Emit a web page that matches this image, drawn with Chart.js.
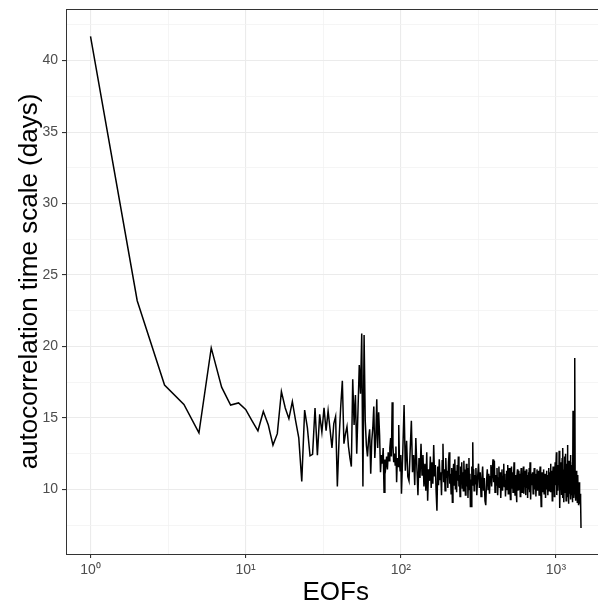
<!DOCTYPE html>
<html>
<head>
<meta charset="utf-8">
<script src="https://cdn.jsdelivr.net/npm/chart.js@4"></script>
<style>
  html, body { margin: 0; padding: 0; background: #fff; overflow: hidden; }
  canvas { display: block; }
</style>
</head>
<body>
<canvas id="chart" width="612" height="605"></canvas>
<script>
// autocorrelation time scale (days) for each EOF
// EOFs 1-100, one value each
const acHead = [
  41.7, 23.2, 17.3, 15.95, 13.95, 19.9, 17.15, 15.9, 16.05, 15.6,
  14.8, 14.1, 15.45, 14.5, 13.1, 13.9, 16.85, 15.7, 14.95, 16.15,
  14.8, 13.6, 10.55, 15.55, 14.3, 12.35, 12.45, 15.7, 12.4, 15.25,
  14.0, 15.7, 14.1, 15.5, 14.2, 12.9, 14.6, 15.1, 10.2, 13.5,
  15.8, 17.6, 13.2, 13.9, 14.4, 13.0, 12.2, 11.6, 17.7, 14.5,
  16.6, 12.5, 15.6, 18.7, 16.7, 20.9, 10.2, 20.8, 14.8, 13.1,
  12.3, 13.5, 14.2, 11.1, 13.4, 14.3, 15.8, 12.2, 13.6, 16.3,
  12.9, 15.4, 13.8, 11.2, 12.4, 11.8, 12.9, 9.8, 12.1, 11.6,
  12.3, 11.4, 12.6, 12.0, 12.9, 13.6, 12.3, 16.1, 13.1, 11.9,
  12.5, 11.7, 13.0, 10.5, 12.2, 11.6, 14.5, 12.0, 11.3, 12.4
];
// EOFs 101-299, every 2nd
const acStep2 = [
  9.7, 12.6, 15.9, 11.3, 13.4, 10.9, 10.6, 12.8, 14.8, 11.2,
  12.4, 10.3, 13.6, 11.5, 9.6, 12.2, 10.8, 13.2, 11.0, 12.4,
  10.2, 11.8, 9.9, 12.6, 9.2, 11.4, 10.6, 12.3, 10.1, 11.9,
  10.4, 13.1, 10.9, 11.7, 9.8, 8.5, 11.6, 10.3, 12.1, 10.7,
  11.2, 9.6, 12.0, 13.2, 10.5, 11.4, 9.9, 12.2, 10.8, 11.3,
  10.1, 11.9, 12.6, 10.4, 11.1, 9.7, 11.5, 9.1, 10.9, 11.8,
  10.3, 12.1, 10.0, 11.3, 9.8, 11.7, 10.6, 12.3, 10.2, 11.0,
  9.5, 11.6, 10.4, 11.9, 10.1, 11.2, 9.9, 12.0, 10.5, 11.4,
  9.6, 10.9, 11.8, 10.2, 11.5, 9.4, 10.8, 12.2, 10.0, 11.1,
  8.8, 10.7, 8.8, 11.6, 10.3, 13.3, 10.6, 11.4, 9.9, 11.0
];
// EOFs 301-697, every 4th
const acStep4 = [
  10.4, 11.5, 9.6, 10.9, 11.8, 10.1, 11.2, 9.5, 10.7, 11.6,
  9.9, 10.8, 9.2, 8.9, 10.6, 11.4, 10.0, 11.1, 9.7, 10.9,
  11.7, 10.2, 11.3, 12.1, 10.5, 12.0, 9.8, 11.0, 10.3, 11.5,
  9.6, 10.8, 11.6, 10.1, 11.2, 9.4, 10.7, 11.4, 9.9, 10.9,
  11.8, 10.2, 11.1, 9.5, 10.6, 11.3, 10.0, 11.7, 9.7, 10.8,
  11.5, 10.3, 9.3, 10.9, 11.6, 10.1, 11.2, 9.8, 10.7, 11.9,
  10.4, 9.6, 11.0, 10.2, 9.1, 10.8, 11.4, 9.9, 10.6, 11.3,
  10.0, 11.1, 9.5, 10.7, 11.5, 10.3, 9.8, 11.0, 10.4, 11.6,
  9.7, 10.9, 10.2, 11.3, 9.6, 10.8, 11.4, 10.1, 11.0, 9.4,
  10.6, 11.2, 10.0, 11.5, 9.8, 11.9, 10.5, 9.3, 10.9, 11.1
];
// EOFs 701-1451, every 6th
const acStep6 = [
  10.3, 11.2, 9.7, 10.8, 11.5, 10.0, 11.1, 9.5, 10.6, 11.4,
  9.9, 10.7, 11.3, 9.6, 10.9, 11.6, 10.2, 8.8, 10.5, 11.2,
  9.8, 10.8, 11.4, 9.7, 10.4, 11.1, 9.4, 10.6, 11.3, 10.0,
  11.0, 9.6, 10.7, 11.5, 9.9, 10.8, 11.2, 11.8, 9.8, 10.5,
  11.3, 9.2, 10.9, 11.6, 10.1, 11.1, 9.5, 10.7, 11.9, 10.3,
  11.4, 12.6, 9.6, 10.9, 11.7, 9.9, 11.2, 10.4, 12.7, 9.3,
  8.7, 11.5, 10.2, 11.9, 9.6, 10.8, 12.2, 9.4, 12.9, 10.5,
  11.4, 9.1, 10.7, 12.3, 9.8, 11.1, 12.5, 9.2, 10.6, 11.8,
  9.5, 13.1, 10.3, 11.6, 9.0, 10.8, 12.0, 9.7, 11.3, 10.1,
  12.4, 9.3, 10.9, 11.7, 9.6, 10.5, 11.9, 9.1, 15.5, 10.2,
  11.4, 9.4, 10.8, 11.2, 19.2, 9.8, 10.6, 9.2, 11.3, 10.0,
  9.5, 10.9, 9.1, 10.4, 11.0, 9.3, 10.1, 8.9, 10.5, 9.6,
  9.9, 9.0, 9.7, 8.8, 9.3, 7.3
];
// first EOF index and spacing of each block above
const blockStart = [1, 101, 301, 701];
const blockStep = [1, 2, 4, 6];
const blocks = [acHead, acStep2, acStep4, acStep6];

const xTicks = [1, 3.1623, 10, 31.623, 100, 316.23, 1000];
const xTickLabels = { 1: "10\u2070", 10: "10\u00B9", 100: "10\u00B2", 1000: "10\u00B3" };
const yTicks = [7.5, 10, 12.5, 15, 17.5, 20, 22.5, 25, 27.5, 30, 32.5, 35, 37.5, 40, 42.5];

const points = [];
blocks.forEach((vals, b) => {
  vals.forEach((v, i) => {
    points.push({ x: blockStart[b] + i * blockStep[b], y: v });
  });
});

const isMajorX = (v) => xTickLabels[v] !== undefined;
const isMajorY = (v) => v % 5 === 0;

// ggplot-style panel border (top/right sides too)
const panelBorder = {
  id: "panelBorder",
  afterDraw(chart) {
    const { ctx, chartArea: a } = chart;
    const l = Math.round(a.left) + 0.5;
    const t = Math.round(a.top) + 0.5;
    const b = Math.round(a.bottom) + 0.5;
    const r = Math.round(a.right) + 0.5;
    ctx.save();
    ctx.strokeStyle = "#333333";
    ctx.lineWidth = 1;
    ctx.strokeRect(l, t, r - l, b - t);
    ctx.restore();
  },
};

const ctx = document.getElementById("chart").getContext("2d");
new Chart(ctx, {
  type: "line",
  data: {
    datasets: [
      {
        data: points,
        borderColor: "#000000",
        borderWidth: 1.5,
        pointRadius: 0,
        tension: 0,
        fill: false,
      },
    ],
  },
  options: {
    responsive: false,
    animation: false,
    devicePixelRatio: 1,
    layout: { padding: { top: 9, right: 6.5, bottom: 0, left: 0 } },
    plugins: {
      legend: { display: false },
      tooltip: { enabled: false },
    },
    scales: {
      x: {
        type: "logarithmic",
        min: 0.695,
        max: 2087,
        afterBuildTicks: (scale) => {
          scale.ticks = xTicks.map((v) => ({ value: v }));
        },
        afterFit: (scale) => {
          scale.height = 51;
          scale.paddingLeft = 0;
          scale.paddingRight = 0;
        },
        ticks: {
          autoSkip: false,
          maxRotation: 0,
          padding: 4,
          color: "#4d4d4d",
          font: { family: "Liberation Sans", size: 14 },
          callback: (v) => xTickLabels[v] || "",
        },
        grid: {
          color: (c) => (isMajorX(c.tick.value) ? "#ebebeb" : "#f3f3f3"),
          lineWidth: (c) => (isMajorX(c.tick.value) ? 1.1 : 0.8),
          tickColor: (c) => (isMajorX(c.tick.value) ? "#333333" : "rgba(0,0,0,0)"),
          tickLength: 4,
        },
        border: { display: false },
        title: {
          display: true,
          text: "EOFs",
          color: "#000000",
          font: { family: "Liberation Sans", size: 26, lineHeight: 1 },
          padding: { top: 0, bottom: -0.5 },
        },
      },
      y: {
        type: "linear",
        min: 5.48,
        max: 43.61,
        afterBuildTicks: (scale) => {
          scale.ticks = yTicks.map((v) => ({ value: v }));
        },
        afterFit: (scale) => {
          scale.width = 66;
          scale.paddingTop = 0;
          scale.paddingBottom = 0;
        },
        ticks: {
          autoSkip: false,
          padding: 4,
          color: "#4d4d4d",
          font: { family: "Liberation Sans", size: 14 },
          callback: (v) => (isMajorY(v) ? String(v) : ""),
        },
        grid: {
          color: (c) => (isMajorY(c.tick.value) ? "#ebebeb" : "#f3f3f3"),
          lineWidth: (c) => (isMajorY(c.tick.value) ? 1.1 : 0.8),
          tickColor: (c) => (isMajorY(c.tick.value) ? "#333333" : "rgba(0,0,0,0)"),
          tickLength: 4,
        },
        border: { display: false },
        title: {
          display: true,
          text: "autocorrelation time scale (days)",
          color: "#000000",
          font: { family: "Liberation Sans", size: 26, lineHeight: 1 },
          padding: { top: 17, bottom: 0 },
        },
      },
    },
  },
  plugins: [panelBorder],
});
</script>
</body>
</html>
